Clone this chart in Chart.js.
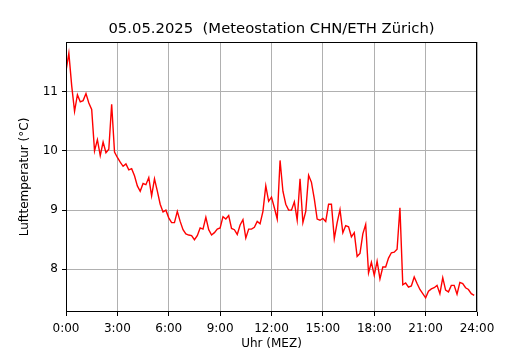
<!DOCTYPE html>
<html>
<head>
<meta charset="utf-8">
<script src="https://cdn.jsdelivr.net/npm/chart.js@4/dist/chart.umd.min.js"></script>
<style>
  html, body { margin: 0; padding: 0; background: #fff; }
  #wrap { width: 530px; height: 350px; }
</style>
</head>
<body>
<div id="wrap"><canvas id="tempChart" width="530" height="350"></canvas></div>
<script>
// 10-minute air temperature readings, 0:00 .. 23:50
const temps = [
  11.35, 11.65, 11.10, 10.67, 10.95, 10.83, 10.85, 10.97, 10.81, 10.70,
  10.00, 10.19, 9.92, 10.15, 9.97, 10.03, 10.79, 9.98, 9.89, 9.81,
  9.74, 9.78, 9.68, 9.70, 9.58, 9.41, 9.32, 9.45, 9.43, 9.55,
  9.24, 9.53, 9.32, 9.10, 8.97, 9.00, 8.87, 8.79, 8.79, 8.98,
  8.81, 8.67, 8.60, 8.58, 8.57, 8.50, 8.57, 8.70, 8.68, 8.88,
  8.67, 8.58, 8.62, 8.68, 8.70, 8.89, 8.85, 8.91, 8.69, 8.67,
  8.59, 8.75, 8.84, 8.53, 8.68, 8.68, 8.71, 8.81, 8.77, 8.98,
  9.41, 9.15, 9.22, 9.04, 8.85, 9.84, 9.32, 9.10, 9.00, 9.00,
  9.14, 8.83, 9.53, 8.79, 8.98, 9.59, 9.47, 9.19, 8.85, 8.83,
  8.86, 8.81, 9.10, 9.10, 8.52, 8.79, 9.01, 8.62, 8.74, 8.72,
  8.55, 8.62, 8.22, 8.27, 8.60, 8.76, 7.94, 8.12, 7.90, 8.14,
  7.84, 8.04, 8.04, 8.19, 8.28, 8.29, 8.34, 9.04, 7.74, 7.77,
  7.70, 7.72, 7.87, 7.76, 7.66, 7.59, 7.52, 7.63, 7.67, 7.69,
  7.73, 7.59, 7.86, 7.65, 7.62, 7.73, 7.73, 7.58, 7.78, 7.76,
  7.69, 7.66, 7.59, 7.56
]
const stepMinutes = 10

// tick positions (minutes after midnight / degrees)
const xTicks = [0, 180, 360, 540, 720, 900, 1080, 1260, 1440]
const yTicks = [8, 9, 10, 11]

const titleText = "05.05.2025  (Meteostation CHN/ETH Zürich)"
const xLabel = "Uhr (MEZ)"
const yLabel = "Lufttemperatur (°C)"

const fontFamily = "'DejaVu Sans', sans-serif"

const points = temps.map((t, i) => ({ x: i * stepMinutes, y: t }))

// black frame around the plot area + title centred over the axes
const frame = {
  id: "frame",
  afterDatasetsDraw(chart) {
    const { ctx, chartArea } = chart
    ctx.save()
    ctx.strokeStyle = "#000"
    ctx.lineWidth = 1
    ctx.strokeRect(chartArea.left + 0.5, chartArea.top + 0.5,
      chartArea.right - chartArea.left - 1, chartArea.bottom - chartArea.top - 1)
    ctx.fillStyle = "#000"
    ctx.font = `14.8px ${fontFamily}`
    ctx.textAlign = "center"
    ctx.textBaseline = "middle"
    ctx.fillText(titleText, (chartArea.left + chartArea.right) / 2, 29)
    ctx.restore()
  },
}

new Chart(document.getElementById("tempChart"), {
  type: "line",
  data: {
    datasets: [
      {
        data: points,
        borderColor: "#ff0000",
        borderWidth: 1.4,
        pointRadius: 0,
        tension: 0,
        fill: false,
      },
    ],
  },
  options: {
    responsive: false,
    animation: false,
    layout: { padding: { left: 0, right: 53, top: 42, bottom: 0 } },
    plugins: {
      legend: { display: false },
      tooltip: { enabled: false },
      title: { display: false },
    },
    scales: {
      x: {
        type: "linear",
        min: 0,
        max: 1440,
        afterBuildTicks: (scale) => { scale.ticks = xTicks.map((v) => ({ value: v })) },
        afterFit: (scale) => { scale.height = 38 },
        ticks: {
          color: "#000",
          font: { family: fontFamily, size: 12 },
          padding: 6,
          maxRotation: 0,
          callback: (v) => `${Math.round(v / 60)}:00`,
        },
        grid: { color: "#b0b0b0", lineWidth: 1, tickColor: "#000", tickLength: 4 },
        border: { display: false },
        title: {
          display: true,
          text: xLabel,
          color: "#000",
          font: { family: fontFamily, size: 12, lineHeight: 1 },
          padding: { top: 0, bottom: 0 },
        },
      },
      y: {
        min: 7.28,
        max: 11.84,
        afterBuildTicks: (scale) => { scale.ticks = yTicks.map((v) => ({ value: v })) },
        afterFit: (scale) => { scale.width = 66 },
        ticks: {
          color: "#000",
          font: { family: fontFamily, size: 12 },
          padding: 4,
          callback: (v) => `${v}`,
        },
        grid: { color: "#b0b0b0", lineWidth: 1, tickColor: "#000", tickLength: 4 },
        border: { display: false },
        title: {
          display: true,
          text: yLabel,
          color: "#000",
          font: { family: fontFamily, size: 12 },
          padding: { top: 18, bottom: 0 },
        },
      },
    },
  },
  plugins: [frame],
})
</script>
</body>
</html>
